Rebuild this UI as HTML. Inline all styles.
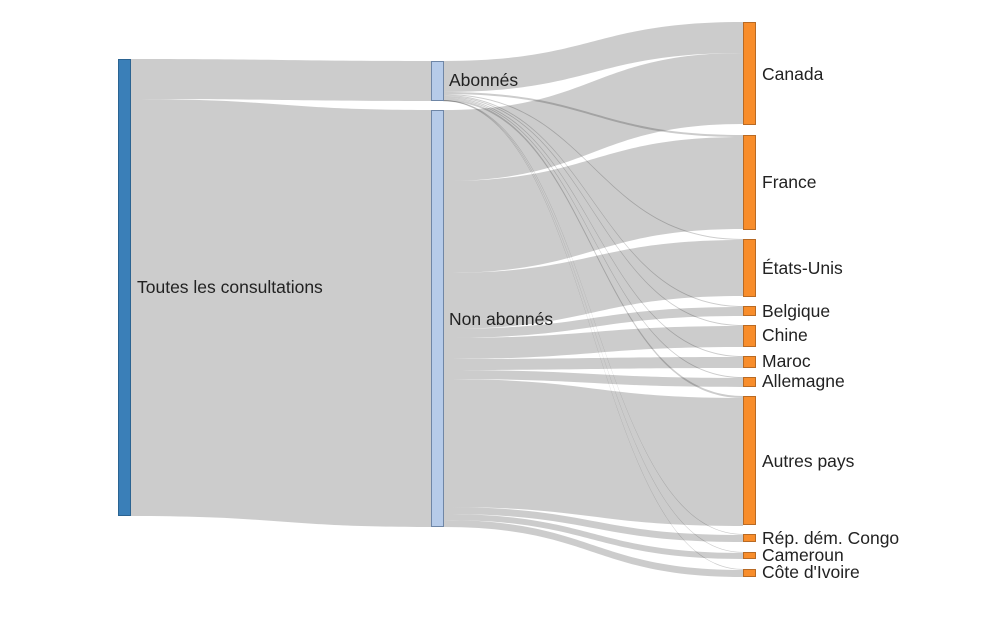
<!DOCTYPE html>
<html><head><meta charset="utf-8"><style>
html,body{margin:0;padding:0;background:#fff;}
svg{display:block;}
text{font-family:"Liberation Sans",Arial,sans-serif;font-size:17.5px;fill:#222;}
</style></head><body>
<svg width="986" height="640" viewBox="0 0 986 640" xmlns="http://www.w3.org/2000/svg">
<g fill="rgba(0,0,0,0.2)" stroke="none">
<path d="M130 59 C280.5 59 280.5 61 431 61 L431 101 C280.5 101 280.5 99 130 99 Z"/>
<path d="M130 99 C280.5 99 280.5 110 431 110 L431 527 C280.5 527 280.5 516 130 516 Z"/>
<path d="M443 61 C593 61 593 22 743 22 L743 53 C593 53 593 92 443 92 Z"/>
<path d="M443 92 C593 92 593 135 743 135 L743 137 C593 137 593 94 443 94 Z"/>
<path d="M443 94 C593 94 593 239 743 239 L743 240 C593 240 593 95 443 95 Z"/>
<path d="M443 95 C593 95 593 306 743 306 L743 307 C593 307 593 96 443 96 Z"/>
<path d="M443 96 C593 96 593 325 743 325 L743 326 C593 326 593 97 443 97 Z"/>
<path d="M443 97 C593 97 593 356 743 356 L743 357 C593 357 593 98 443 98 Z"/>
<path d="M443 98 C593 98 593 377 743 377 L743 378 C593 378 593 99 443 99 Z"/>
<path d="M443 99 C593 99 593 396 743 396 L743 398 C593 398 593 101 443 101 Z"/>
<path d="M443 100 C593 100 593 534 743 534 L743 534.7 C593 534.7 593 100.7 443 100.7 Z"/>
<path d="M443 100.3 C593 100.3 593 552 743 552 L743 552.7 C593 552.7 593 101 443 101 Z"/>
<path d="M443 100.5 C593 100.5 593 569 743 569 L743 569.7 C593 569.7 593 101.2 443 101.2 Z"/>
<path d="M443 110 C593 110 593 53 743 53 L743 124 C593 124 593 181 443 181 Z"/>
<path d="M443 181 C593 181 593 137 743 137 L743 229 C593 229 593 273 443 273 Z"/>
<path d="M443 273 C593 273 593 240 743 240 L743 296 C593 296 593 329 443 329 Z"/>
<path d="M443 329 C593 329 593 307 743 307 L743 316 C593 316 593 338 443 338 Z"/>
<path d="M443 338 C593 338 593 326 743 326 L743 347 C593 347 593 359 443 359 Z"/>
<path d="M443 359 C593 359 593 357 743 357 L743 368 C593 368 593 370 443 370 Z"/>
<path d="M443 370 C593 370 593 378 743 378 L743 387 C593 387 593 379 443 379 Z"/>
<path d="M443 379 C593 379 593 398 743 398 L743 526 C593 526 593 507 443 507 Z"/>
<path d="M443 507 C593 507 593 535 743 535 L743 542 C593 542 593 514 443 514 Z"/>
<path d="M443 514 C593 514 593 553 743 553 L743 559 C593 559 593 520 443 520 Z"/>
<path d="M443 520 C593 520 593 570 743 570 L743 577 C593 577 593 527 443 527 Z"/>
</g>
<rect x="118.5" y="59.5" width="12" height="456" fill="#3a7fb8" stroke="#2b6391"/>
<rect x="431.5" y="61.5" width="12" height="39" fill="#b6cbe9" stroke="#6f86a6"/>
<rect x="431.5" y="110.5" width="12" height="416" fill="#b6cbe9" stroke="#6f86a6"/>
<g fill="#f88d2b" stroke="#b86a24">
<rect x="743.5" y="22.5" width="12" height="102"/>
<rect x="743.5" y="135.5" width="12" height="94"/>
<rect x="743.5" y="239.5" width="12" height="57"/>
<rect x="743.5" y="306.5" width="12" height="9"/>
<rect x="743.5" y="325.5" width="12" height="21"/>
<rect x="743.5" y="356.5" width="12" height="11"/>
<rect x="743.5" y="377.5" width="12" height="9"/>
<rect x="743.5" y="396.5" width="12" height="128"/>
<rect x="743.5" y="534.5" width="12" height="7"/>
<rect x="743.5" y="552.5" width="12" height="6"/>
<rect x="743.5" y="569.5" width="12" height="7"/>
</g>
<text x="137" y="293">Toutes les consultations</text>
<text x="449" y="86">Abonnés</text>
<text x="449" y="325">Non abonnés</text>
<text x="762" y="80">Canada</text>
<text x="762" y="188">France</text>
<text x="762" y="274">États-Unis</text>
<text x="762" y="317">Belgique</text>
<text x="762" y="341">Chine</text>
<text x="762" y="367">Maroc</text>
<text x="762" y="387">Allemagne</text>
<text x="762" y="467">Autres pays</text>
<text x="762" y="544">Rép. dém. Congo</text>
<text x="762" y="561">Cameroun</text>
<text x="762" y="578">Côte d'Ivoire</text>
</svg>
</body></html>
